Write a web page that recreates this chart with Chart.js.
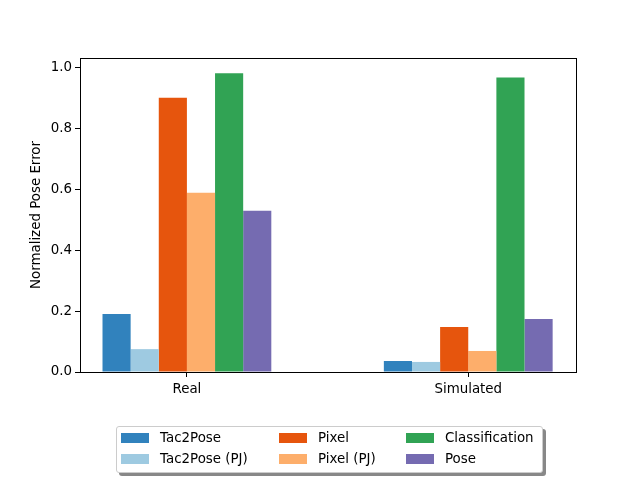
<!DOCTYPE html>
<html>
<head>
<meta charset="utf-8">
<script src="https://cdn.jsdelivr.net/npm/chart.js@4"></script>
<style>
  body { margin: 0; background: #fff; }
  #wrap { position: relative; width: 640px; height: 480px; }
  #legend {
    position: absolute; left: 116px; top: 426px; width: 425px; height: 45px;
    border: 1px solid #cccccc; border-radius: 3px; background: #fff;
    box-shadow: 3px 3px 0 #888;
    font-family: "DejaVu Sans", sans-serif; font-size: 13.4px; color: #000;
  }
  .item { position: absolute; height: 16px; line-height: 16px; white-space: nowrap; }
  .sw { position: absolute; left: 0; top: 3px; width: 28px; height: 10px; }
  .lab { position: absolute; left: 39px; top: 0; }
</style>
</head>
<body>
<div id="wrap">
  <canvas id="chart" width="640" height="480"></canvas>
  <div id="legend"></div>
</div>
<script>
const categories = ["Real", "Simulated"];
const methods = ["Tac2Pose", "Tac2Pose (PJ)", "Pixel", "Pixel (PJ)", "Classification", "Pose"];
const colors = ["#3182bd", "#9ecae1", "#e6550d", "#fdae6b", "#31a354", "#756bb1"];

const tac2pose = [0.190, 0.036];
const tac2posePJ = [0.075, 0.033];
const pixel = [0.900, 0.148];
const pixelPJ = [0.588, 0.069];
const classification = [0.980, 0.966];
const pose = [0.529, 0.174];

const yTicks = [0.0, 0.2, 0.4, 0.6, 0.8, 1.0];

const seriesValues = [tac2pose, tac2posePJ, pixel, pixelPJ, classification, pose];

const font = { family: "DejaVu Sans", size: 13.4 };

// full box around the axes, like matplotlib spines
const frame = {
  id: "frame",
  afterDraw(chart) {
    const a = chart.chartArea;
    const ctx = chart.ctx;
    ctx.save();
    ctx.strokeStyle = "#000";
    ctx.lineWidth = 1;
    ctx.strokeRect(Math.round(a.left) + 0.5, Math.round(a.top) + 0.5,
      Math.round(a.right - a.left), Math.round(a.bottom - a.top));
    ctx.restore();
  }
};

const ctx = document.getElementById("chart").getContext("2d");
new Chart(ctx, {
  type: "bar",
  data: {
    datasets: methods.map((name, i) => ({
      label: name,
      data: seriesValues[i].map((v, j) => ({ x: j, y: v })),
      backgroundColor: colors[i],
      borderWidth: 0,
      categoryPercentage: 0.6,
      barPercentage: 1.0,
    })),
  },
  options: {
    responsive: false,
    animation: false,
    layout: { padding: { top: 58, right: 64, left: 0, bottom: 78 } },
    plugins: { legend: { display: false }, tooltip: { enabled: false } },
    scales: {
      x: {
        type: "linear",
        offset: false,
        min: -0.38,
        max: 1.383,
        afterBuildTicks: (scale) => {
          scale.ticks = categories.map((_, i) => ({ value: i }));
        },
        afterFit: (scale) => { scale.height = 30; },
        ticks: {
          color: "#000",
          font: font,
          padding: 4,
          callback: (v) => categories[v],
        },
        grid: { offset: false, drawOnChartArea: false, tickLength: 5, color: "#000" },
        border: { color: "#000" },
      },
      y: {
        min: 0,
        max: 1.03,
        afterBuildTicks: (scale) => {
          scale.ticks = yTicks.map((v) => ({ value: v }));
        },
        afterFit: (scale) => { scale.width = 80; },
        ticks: {
          color: "#000",
          font: font,
          padding: 3,
          callback: (v) => v.toFixed(1),
        },
        grid: { drawOnChartArea: false, tickLength: 5, color: "#000" },
        border: { color: "#000" },
        title: {
          display: true,
          text: "Normalized Pose Error",
          color: "#000",
          font: font,
          padding: { top: 28, bottom: 0 },
        },
      },
    },
  },
  plugins: [frame],
});

// legend in 3 columns, column-major like matplotlib ncol=3
const legend = document.getElementById("legend");
const colX = [4, 162, 289];
const rowY = [3, 24];
methods.forEach((name, i) => {
  const col = Math.floor(i / 2);
  const row = i % 2;
  const item = document.createElement("div");
  item.className = "item";
  item.style.left = colX[col] + "px";
  item.style.top = rowY[row] + "px";
  item.innerHTML = '<span class="sw" style="background:' + colors[i] + '"></span><span class="lab"></span>';
  item.querySelector(".lab").textContent = name;
  legend.appendChild(item);
});
</script>
</body>
</html>
